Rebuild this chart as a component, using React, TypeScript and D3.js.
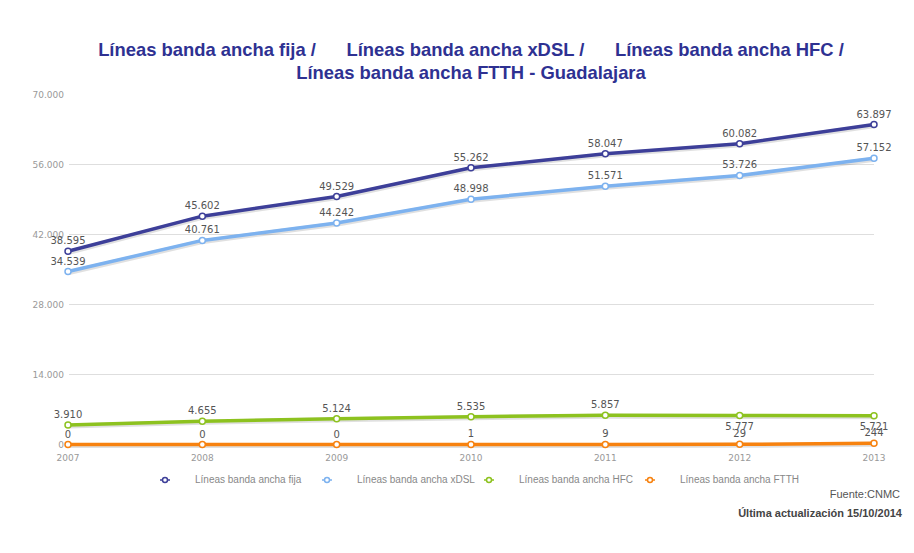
import React, { useEffect, useRef } from 'react';
import * as d3 from 'd3';

const years = ['2007', '2008', '2009', '2010', '2011', '2012', '2013'];
const fija = [38595, 45602, 49529, 55262, 58047, 60082, 63897];
const xdsl = [34539, 40761, 44242, 48998, 51571, 53726, 57152];
const hfc = [3910, 4655, 5124, 5535, 5857, 5777, 5721];
const ftth = [0, 0, 0, 1, 9, 29, 244];
const yTicks = [0, 14000, 28000, 42000, 56000, 70000];

const seriesList = [
  { name: 'Líneas banda ancha fija', values: fija, color: '#3d3f99' },
  { name: 'Líneas banda ancha xDSL', values: xdsl, color: '#7db2ef' },
  { name: 'Líneas banda ancha HFC', values: hfc, color: '#8dc21f' },
  { name: 'Líneas banda ancha FTTH', values: ftth, color: '#f7820f' },
];

const legendX = [165, 327, 489, 650];

const fmt = (v: number) => d3.format(',')(v).replace(/,/g, '.');

export default function App() {
  const svgRef = useRef<SVGSVGElement>(null);

  useEffect(() => {
    if (!svgRef.current) return;
    const svg = d3.select(svgRef.current);
    svg.selectAll('*').remove();

    const x = d3.scalePoint<string>().domain(years).range([68, 874]);
    const y = d3.scaleLinear().domain([0, 70000]).range([444.5, 94]);

    // title
    const title = svg.append('g')
      .attr('font-family', '"Liberation Sans", Arial, sans-serif')
      .attr('font-weight', 'bold')
      .attr('font-size', 18.4)
      .attr('fill', '#2e3192')
      .attr('text-anchor', 'middle');
    title.append('text').attr('x', 471).attr('y', 56)
      .attr('xml:space', 'preserve')
      .text('Líneas banda ancha fija /      Líneas banda ancha xDSL /      Líneas banda ancha HFC /');
    title.append('text').attr('x', 471).attr('y', 79)
      .text('Líneas banda ancha FTTH - Guadalajara');

    // grid
    svg.append('g')
      .selectAll('line')
      .data(yTicks.filter(t => t > 0 && t < 70000))
      .join('line')
      .attr('x1', 69).attr('x2', 874)
      .attr('y1', d => Math.round(y(d)) + 0.5).attr('y2', d => Math.round(y(d)) + 0.5)
      .attr('stroke', '#dedede').attr('stroke-width', 1);

    // y axis labels
    svg.append('g')
      .attr('font-family', '"DejaVu Sans", Verdana, sans-serif')
      .attr('font-size', 9)
      .attr('fill', '#999')
      .attr('text-anchor', 'end')
      .selectAll('text')
      .data(yTicks)
      .join('text')
      .attr('x', 64)
      .attr('y', d => y(d) + 3.5)
      .text(d => fmt(d));

    // x axis labels
    svg.append('g')
      .attr('font-family', '"DejaVu Sans", Verdana, sans-serif')
      .attr('font-size', 9)
      .attr('fill', '#999')
      .attr('text-anchor', 'middle')
      .selectAll('text')
      .data(years)
      .join('text')
      .attr('x', d => x(d)!)
      .attr('y', 461)
      .text(d => d);

    const line = d3.line<number>()
      .x((_, i) => x(years[i])!)
      .y(d => y(d));

    // draw bottom series first so upper ones overlay
    [...seriesList].reverse().forEach(s => {
      const g = svg.append('g');
      g.append('path')
        .attr('d', line(s.values))
        .attr('transform', 'translate(1,1)')
        .attr('fill', 'none')
        .attr('stroke', 'rgba(0,0,0,0.12)')
        .attr('stroke-width', 5)
        .attr('stroke-linejoin', 'round');
      g.append('path')
        .attr('d', line(s.values))
        .attr('fill', 'none')
        .attr('stroke', s.color)
        .attr('stroke-width', 3.5)
        .attr('stroke-linejoin', 'round')
        .attr('stroke-linecap', 'round');
      g.selectAll('circle')
        .data(s.values)
        .join('circle')
        .attr('cx', (_, i) => x(years[i])!)
        .attr('cy', d => y(d))
        .attr('r', 3)
        .attr('fill', '#fff')
        .attr('stroke', s.color)
        .attr('stroke-width', 1.5);
    });

    // data labels
    seriesList.forEach(s => {
      svg.append('g')
        .attr('font-family', '"DejaVu Sans", Verdana, sans-serif')
        .attr('font-size', 10)
        .attr('fill', '#555')
        .attr('text-anchor', 'middle')
        .selectAll('text')
        .data(s.values)
        .join('text')
        .attr('x', (_, i) => x(years[i])!)
        .attr('y', (d, i) => {
          // HFC labels go below the point when the value drops
          const below = s.values === hfc && i > 0 && d < s.values[i - 1];
          return below ? y(d) + 14 : y(d) - 7;
        })
        .text(d => fmt(d));
    });

    // legend
    const legend = svg.append('g');
    seriesList.forEach((s, i) => {
      const lx = legendX[i];
      legend.append('line')
        .attr('x1', lx - 5).attr('x2', lx + 5)
        .attr('y1', 480).attr('y2', 480)
        .attr('stroke', s.color).attr('stroke-width', 1.5);
      legend.append('circle')
        .attr('cx', lx).attr('cy', 480).attr('r', 2.5)
        .attr('fill', '#fff').attr('stroke', s.color).attr('stroke-width', 1.5);
      legend.append('text')
        .attr('x', lx + 30).attr('y', 483)
        .attr('font-family', '"Liberation Sans", Arial, sans-serif')
        .attr('font-size', 10)
        .attr('fill', '#888')
        .text(s.name);
    });

    // footer
    svg.append('text')
      .attr('x', 900).attr('y', 498)
      .attr('text-anchor', 'end')
      .attr('font-family', '"Liberation Sans", Arial, sans-serif')
      .attr('font-size', 11)
      .attr('fill', '#555')
      .text('Fuente:CNMC');
    svg.append('text')
      .attr('x', 902).attr('y', 517)
      .attr('text-anchor', 'end')
      .attr('font-family', '"Liberation Sans", Arial, sans-serif')
      .attr('font-size', 11)
      .attr('font-weight', 'bold')
      .attr('fill', '#444')
      .text('Última actualización 15/10/2014');
  }, []);

  return (
    <svg
      ref={svgRef}
      width={914}
      height={553}
      style={{ position: 'absolute', left: 0, top: 0, background: '#fff' }}
    />
  );
}
